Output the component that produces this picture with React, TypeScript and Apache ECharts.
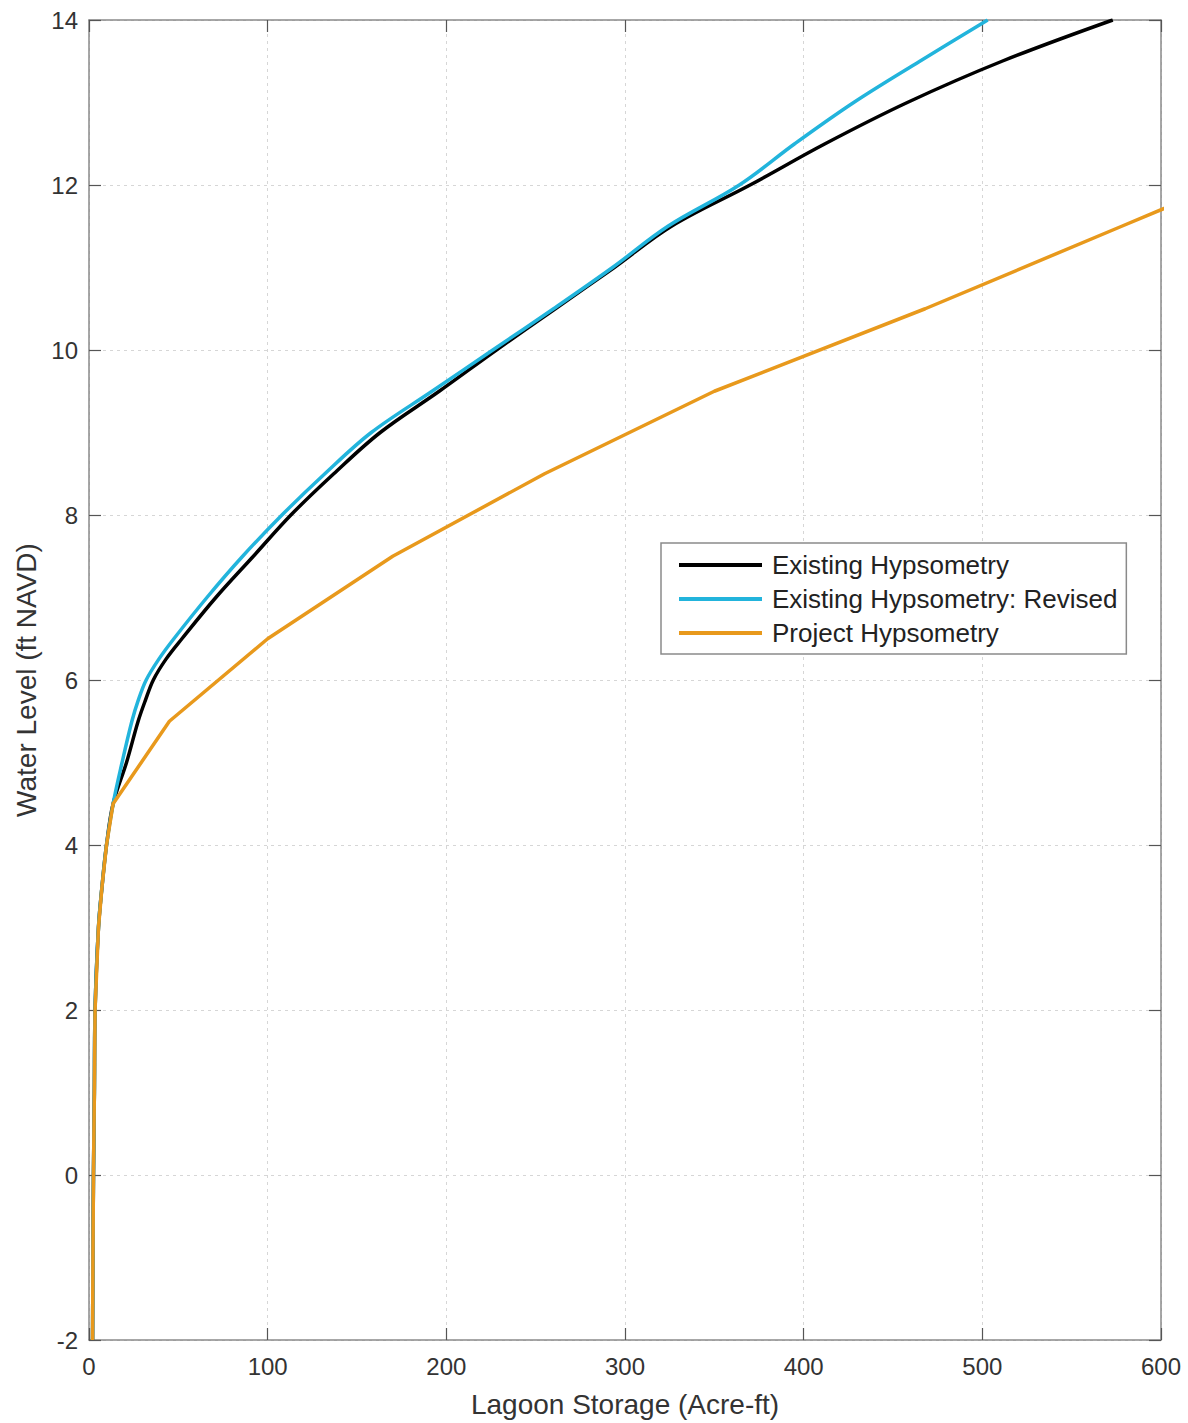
import React, { useEffect, useRef } from "react";
import * as echarts from "echarts";

// Shared lower portion (all three curves coincide below 4.5 ft)
const lowerLevels = [-2, -1, 0, 1, 2, 3, 3.5, 4];
const lowerStorage = [2.0, 2.2, 2.5, 3.0, 3.4, 5.3, 7.3, 9.8];

// Existing Hypsometry (black)
const existingLevels = [4.5, 5, 5.5, 5.75, 6, 6.25, 6.5, 7, 7.5, 8, 8.5, 9, 9.5, 10, 10.5, 11, 11.5, 12, 12.5, 13, 13.5, 14];
const existingStorage = [13.5, 21, 27.5, 31.5, 36, 43, 52, 71, 92, 113, 137, 163, 196, 228, 261, 294, 326, 370, 412, 458, 511, 573];

// Existing Hypsometry: Revised (cyan)
const revisedLevels = [4.5, 5, 5.5, 5.75, 6, 6.25, 6.5, 7, 7.5, 8, 8.5, 9, 9.5, 10, 10.5, 11, 11.5, 12, 12.5, 13, 13.5, 14];
const revisedStorage = [13.5, 18.5, 24, 27.5, 32, 39, 47.5, 66, 86, 108, 132, 158, 192, 226, 260, 293, 324, 364, 395, 428, 465, 503];

// Project Hypsometry (orange)
const projectLevels = [4.5, 5.5, 6.5, 7.5, 8.5, 9.5, 10.5, 11.5, 12];
const projectStorage = [13.5, 45, 100, 170, 255, 350, 468, 578, 633];

const seriesNames = ["Existing Hypsometry", "Existing Hypsometry: Revised", "Project Hypsometry"];
const seriesColors = ["#000000", "#22b4dc", "#e8991c"];

const xTicks = { min: 0, max: 600, interval: 100 };
const yTicks = { min: -2, max: 14, interval: 2 };

const FONT = '"Liberation Sans", Arial, Helvetica, sans-serif';

function pairs(storage: number[], levels: number[]): number[][] {
  return storage.map((s, i) => [s, levels[i]]);
}

export default function App() {
  const ref = useRef<HTMLDivElement>(null);

  useEffect(() => {
    document.body.style.margin = "0";
    if (!ref.current) return;
    const chart = echarts.init(ref.current, null, { renderer: "svg" });

    const lower = pairs(lowerStorage, lowerLevels);
    const existing = lower.concat(pairs(existingStorage, existingLevels));
    const revised = lower.concat(pairs(revisedStorage, revisedLevels));
    const project = lower.concat(pairs(projectStorage, projectLevels));

    const axisLineStyle = { color: "#8a8a8a", width: 1.5 };
    const tickStyle = { color: "#555555", width: 1.2 };
    const gridStyle = { color: "#d6d6d6", width: 1, type: [3, 4] as number[] };

    chart.setOption({
      animation: false,
      backgroundColor: "#ffffff",
      textStyle: { fontFamily: FONT },
      grid: { left: 89, top: 20, right: 27, bottom: 83, containLabel: false },
      xAxis: [
        {
          type: "value",
          min: xTicks.min,
          max: xTicks.max,
          interval: xTicks.interval,
          position: "bottom",
          name: "Lagoon Storage (Acre-ft)",
          nameLocation: "middle",
          nameGap: 50,
          nameTextStyle: { fontSize: 28, color: "#333333", fontFamily: FONT },
          axisLine: { show: true, onZero: false, lineStyle: axisLineStyle },
          axisTick: { show: true, inside: true, length: 12, lineStyle: tickStyle },
          axisLabel: { fontSize: 24, color: "#333333", margin: 14, fontFamily: FONT },
          splitLine: { show: true, lineStyle: gridStyle },
        },
        {
          type: "value",
          min: xTicks.min,
          max: xTicks.max,
          interval: xTicks.interval,
          position: "top",
          axisLine: { show: true, onZero: false, lineStyle: axisLineStyle },
          axisTick: { show: true, inside: true, length: 12, lineStyle: tickStyle },
          axisLabel: { show: false },
          splitLine: { show: false },
        },
      ],
      yAxis: [
        {
          type: "value",
          min: yTicks.min,
          max: yTicks.max,
          interval: yTicks.interval,
          position: "left",
          name: "Water Level (ft NAVD)",
          nameLocation: "middle",
          nameGap: 48,
          nameRotate: 90,
          nameTextStyle: { fontSize: 28, color: "#333333", fontFamily: FONT },
          axisLine: { show: true, onZero: false, lineStyle: axisLineStyle },
          axisTick: { show: true, inside: true, length: 12, lineStyle: tickStyle },
          axisLabel: { fontSize: 24, color: "#333333", margin: 11, fontFamily: FONT },
          splitLine: { show: true, lineStyle: gridStyle },
        },
        {
          type: "value",
          min: yTicks.min,
          max: yTicks.max,
          interval: yTicks.interval,
          position: "right",
          axisLine: { show: true, onZero: false, lineStyle: axisLineStyle },
          axisTick: { show: true, inside: true, length: 12, lineStyle: tickStyle },
          axisLabel: { show: false },
          splitLine: { show: false },
        },
      ],
      legend: {
        show: true,
        orient: "vertical",
        left: 661,
        top: 543,
        padding: [7, 9, 6, 18],
        itemGap: 4,
        itemWidth: 83,
        itemHeight: 4,
        icon: "rect",
        backgroundColor: "#ffffff",
        borderColor: "#8a8a8a",
        borderWidth: 1.5,
        borderRadius: 0,
        textStyle: { fontSize: 26, color: "#222222", fontFamily: FONT, lineHeight: 30, padding: [0, 0, 0, 5] },
        data: seriesNames,
      },
      series: [
        {
          name: seriesNames[0],
          type: "line",
          data: existing,
          showSymbol: false,
          symbol: "none",
          smooth: 0.35,
          lineStyle: { color: seriesColors[0], width: 3.5, join: "round" },
          itemStyle: { color: seriesColors[0] },
          clip: true,
        },
        {
          name: seriesNames[1],
          type: "line",
          data: revised,
          showSymbol: false,
          symbol: "none",
          smooth: 0.35,
          lineStyle: { color: seriesColors[1], width: 3.5, join: "round" },
          itemStyle: { color: seriesColors[1] },
          clip: true,
        },
        {
          name: seriesNames[2],
          type: "line",
          data: project,
          showSymbol: false,
          symbol: "none",
          smooth: false,
          lineStyle: { color: seriesColors[2], width: 3.5, join: "round" },
          itemStyle: { color: seriesColors[2] },
          clip: true,
        },
      ],
    });

    return () => {
      chart.dispose();
    };
  }, []);

  return <div ref={ref} style={{ width: 1188, height: 1423 }} />;
}
